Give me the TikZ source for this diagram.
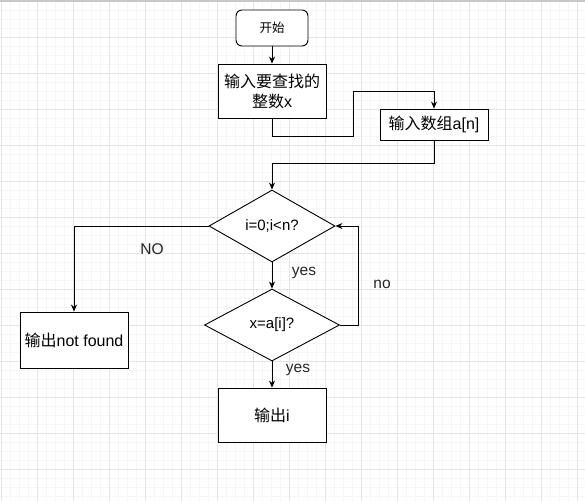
\documentclass[tikz,border=0pt]{standalone}
\usepackage{fontspec}
\setmainfont{Liberation Sans}
\newfontfamily\cjk{Noto Sans CJK SC}
\usetikzlibrary{shapes.geometric,arrows.meta}
\definecolor{gridmajor}{HTML}{E4E4E4}
\definecolor{gridminor}{HTML}{F6F6F6}
\definecolor{topline}{HTML}{C8C8C8}
\tikzset{
  box/.style={draw=black, line width=0.9pt, fill=white, minimum width=108pt, inner sep=2pt, align=center, font=\fontsize{16}{20}\selectfont},
  startbox/.style={draw=black, line width=0.9pt, fill=white, rounded corners=6pt, minimum width=72pt, minimum height=36pt, font=\fontsize{12.5}{14}\selectfont},
  decision/.style={draw=black, line width=0.9pt, fill=white, diamond, inner sep=0pt, font=\fontsize{15}{18}\selectfont},
  arr/.style={draw=black, line width=0.9pt, -{Stealth[length=7pt,width=6pt]}},
  lbl/.style={font=\fontsize{15.5}{18}\selectfont, text=black!85},
}
\begin{document}
\begin{tikzpicture}[x=1pt,y=-1pt]
\useasboundingbox (0,0) rectangle (585,501);
% background grid
\foreach \v in {0,9,...,585} {\draw[gridminor, line width=0.6pt] (\v+1,0) -- (\v+1,501);}
\foreach \v in {0,9,...,501} {\draw[gridminor, line width=0.6pt] (0,\v+1) -- (585,\v+1);}
\foreach \v in {0,36,...,585} {\draw[gridmajor, line width=0.8pt] (\v+1,0) -- (\v+1,501);}
\foreach \v in {0,36,...,501} {\draw[gridmajor, line width=0.8pt] (0,\v+1) -- (585,\v+1);}
\draw[topline, line width=1.5pt] (0,0.75) -- (585,0.75);

% nodes
\node[startbox] (start) at (272,28) {\cjk 开始};
\node[box, minimum height=54pt] (inx) at (272,91) {{\cjk 输入要查找的}\\{\cjk 整数}x};
\node[box, minimum height=31pt] (inarr) at (434,124.5) {{\cjk 输入数组}a[n]};
\node[decision, minimum width=126pt, minimum height=72pt] (d1) at (272,226) {i=0;i<n?};
\node[decision, minimum width=135pt, minimum height=72pt] (d2) at (272,325) {x=a[i]?};
\node[box, minimum height=56pt] (nf) at (74,340) {{\cjk 输出}not found};
\node[box, minimum height=54pt] (outi) at (272,415) {{\cjk 输出}i};

% connectors
\draw[arr] (start) -- (inx);
\draw[arr] (inx.south) -- ++(0,18) -| ++(81,-45) -| (inarr.north);
\draw[arr] (inarr.south) -- ++(0,23) -| (d1.north);
\draw[arr] (d1.west) -| (nf.north);
\draw[arr] (d1.south) -- (d2.north);
\draw[arr] (d2.east) -- ++(18,0) |- (d1.east);
\draw[arr] (d2.south) -- (outi.north);

% labels
\node[lbl, fill=gray!8, inner sep=1pt] (lno) at (152,249) {NO};
\node[lbl] (lyes1) at (304,273) {yes};
\node[lbl] (lno2) at (382,284) {no};
\node[lbl] (lyes2) at (298,370) {yes};
\end{tikzpicture}
\end{document}
